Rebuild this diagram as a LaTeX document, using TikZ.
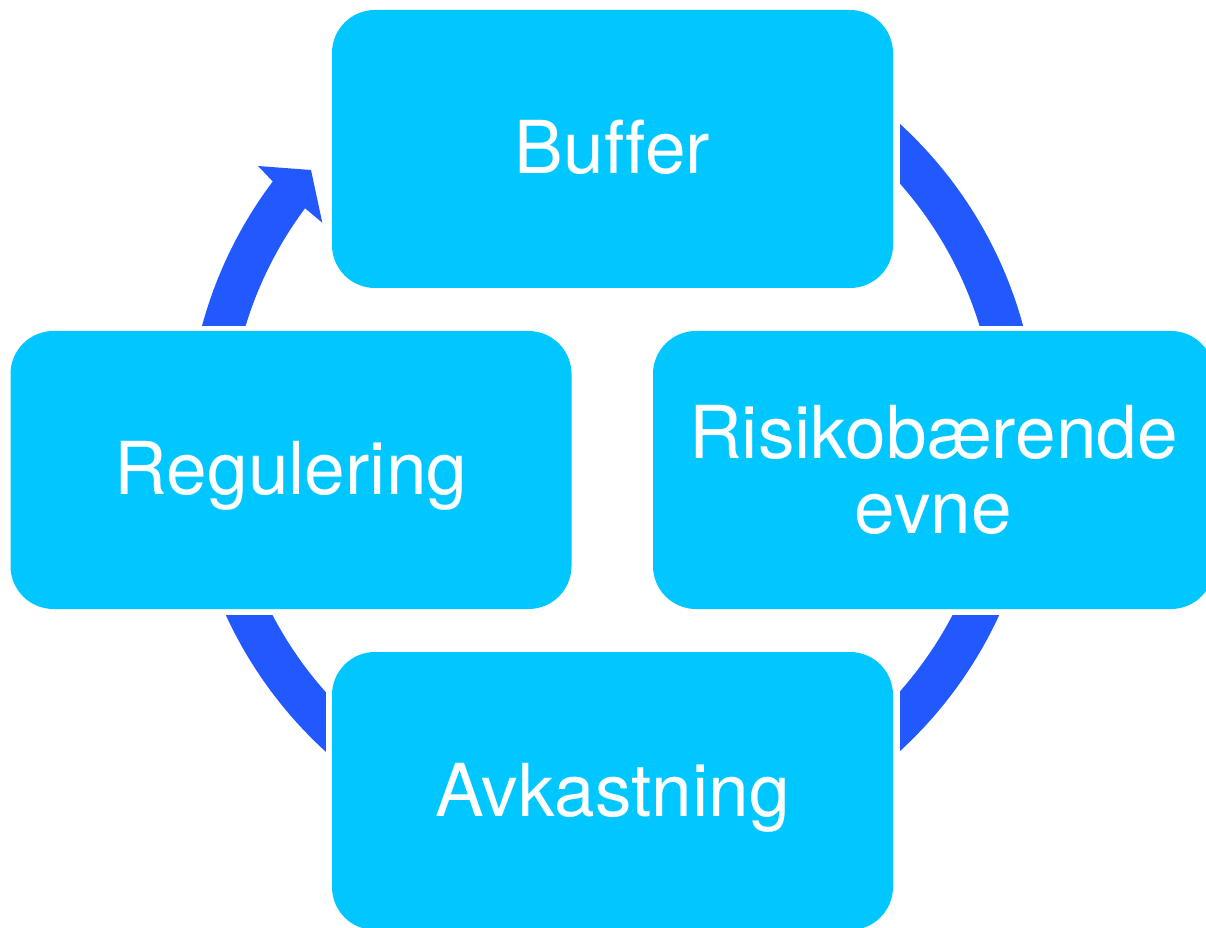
\documentclass[tikz,border=0pt]{standalone}
\usepackage{fontspec}
\setmainfont[Ligatures=NoCommon]{TeX Gyre Heros}
\usetikzlibrary{calc}
\definecolor{boxcyan}{RGB}{0,199,255}
\definecolor{arrowblue}{RGB}{33,89,255}
\begin{document}
\begin{tikzpicture}[x=1pt,y=1pt,
  cyclebox/.style={fill=boxcyan, draw=none, rounded corners=43pt,
    minimum width=561pt, minimum height=278pt, inner sep=0pt,
    text=white, font=\fontsize{73}{75}\selectfont, align=center},
  oneline/.style={text height=50pt, text depth=0pt},
  band/.style={fill=arrowblue}]
\useasboundingbox (0,0) rectangle (1206,927);
\clip (0,0) rectangle (1206,927);

\node[cyclebox, oneline] (buffer) at (612.5,778) {Buffer};
\node[cyclebox, oneline] (regulering) at (291,457) {Regulering};
\node[cyclebox] (risiko) at (933.5,457) {Risikobærende\\evne};
\node[cyclebox, oneline] (avkastning) at (612.5,136) {Avkastning};

\coordinate (C) at (612.5,489.5);
\coordinate (cutR) at ($(buffer.east)+(7,0)$);
\coordinate (cutL) at ($(buffer.west)+(-6,0)$);
\coordinate (cutT) at ($(risiko.north)+(0,5)$);
\coordinate (cutB) at ($(risiko.south)+(0,-6)$);

% Buffer -> Risikobaerende evne
\begin{scope}
  \clip (cutR |- cutT) rectangle (1206,927);
  \fill[band, even odd rule] (C) circle[radius=425.4] (C) circle[radius=383.5];
\end{scope}
% Risikobaerende evne -> Avkastning
\begin{scope}
  \clip (cutR |- cutB) rectangle (1206,0);
  \fill[band, even odd rule] (C) circle[radius=425.4] (C) circle[radius=383.5];
\end{scope}
% Avkastning -> Regulering
\begin{scope}
  \clip (cutL |- cutB) rectangle (0,0);
  \fill[band, even odd rule] (C) circle[radius=425.4] (C) circle[radius=383.5];
\end{scope}
% Regulering -> Buffer (with arrow head)
\begin{scope}
  \clip (cutL |- cutT) rectangle (0,927);
  \fill[band] ($(C)+(175:425.4)$) arc[start angle=175, end angle=143, radius=425.4]
    -- (258,761) -- (311,757) -- (322.3,704.3)
    -- ($(C)+(143.3:383.5)$) arc[start angle=143.3, end angle=175, radius=383.5]
    -- cycle;
\end{scope}
\end{tikzpicture}
\end{document}
